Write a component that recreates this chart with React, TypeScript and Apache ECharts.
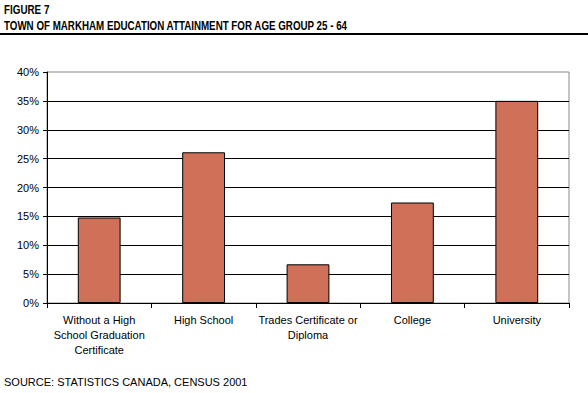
import React, { useEffect, useRef } from "react";
import * as echarts from "echarts";

const categories = [
  "Without a High\nSchool Graduation\nCertificate",
  "High School",
  "Trades Certificate or\nDiploma",
  "College",
  "University",
];
const values = [14.8, 26.1, 6.7, 17.4, 35.0];
const titleLine1 = "FIGURE 7";
const titleLine2 = "TOWN OF MARKHAM EDUCATION ATTAINMENT FOR AGE GROUP 25 - 64";
const sourceText = "SOURCE: STATISTICS CANADA, CENSUS 2001";

export default function App() {
  const ref = useRef<HTMLDivElement>(null);
  useEffect(() => {
    if (!ref.current) return;
    const chart = echarts.init(ref.current, null, { renderer: "svg" });
    const sans = "'Liberation Sans', Arial, sans-serif";
    chart.setOption({
      animation: false,
      backgroundColor: "#ffffff",
      grid: {
        left: 47,
        top: 72,
        right: 19,
        bottom: 90,
        show: true,
        borderColor: "#888888",
        borderWidth: 1,
      },
      graphic: [
        {
          type: "text",
          x: 4,
          y: 3,
          scaleX: 0.82,
          scaleY: 1.05,
          style: { text: titleLine1, font: `bold 12px ${sans}`, fill: "#000", verticalAlign: "top", align: "left" },
        },
        {
          type: "text",
          x: 4,
          y: 19,
          scaleX: 0.815,
          scaleY: 1.05,
          style: { text: titleLine2, font: `bold 12px ${sans}`, fill: "#000", verticalAlign: "top", align: "left" },
        },
        {
          type: "line",
          shape: { x1: 0, y1: 34, x2: 588, y2: 34 },
          style: { stroke: "#000", lineWidth: 2 },
        },
        {
          type: "text",
          x: 4,
          y: 376,
          style: { text: sourceText, font: `11px ${sans}`, fill: "#000", verticalAlign: "top", align: "left" },
        },
      ],
      xAxis: {
        type: "category",
        data: categories,
        axisLine: { show: true, lineStyle: { color: "#000", width: 1 } },
        axisTick: { show: true, alignWithLabel: false, length: 5, lineStyle: { color: "#000" } },
        axisLabel: {
          color: "#000",
          fontFamily: sans,
          fontSize: 11,
          lineHeight: 15,
          margin: 9,
          interval: 0,
        },
        splitLine: { show: false },
      },
      yAxis: {
        type: "value",
        min: 0,
        max: 40,
        interval: 5,
        axisLine: { show: true, lineStyle: { color: "#000", width: 1 } },
        axisTick: { show: true, length: 4, lineStyle: { color: "#000" } },
        axisLabel: {
          formatter: "{value}%",
          color: "#000",
          fontFamily: sans,
          fontSize: 11,
          margin: 8,
        },
        splitLine: {
          show: true,
          showMaxLine: false,
          lineStyle: { color: "#000", width: 1 },
        },
      },
      series: [
        {
          type: "bar",
          data: values,
          barCategoryGap: "59%",
          itemStyle: { color: "#CF7059", borderColor: "#000", borderWidth: 1 },
        },
      ],
    });
    return () => chart.dispose();
  }, []);
  return <div ref={ref} style={{ width: 588, height: 393, position: "absolute", left: 0, top: 0 }} />;
}
